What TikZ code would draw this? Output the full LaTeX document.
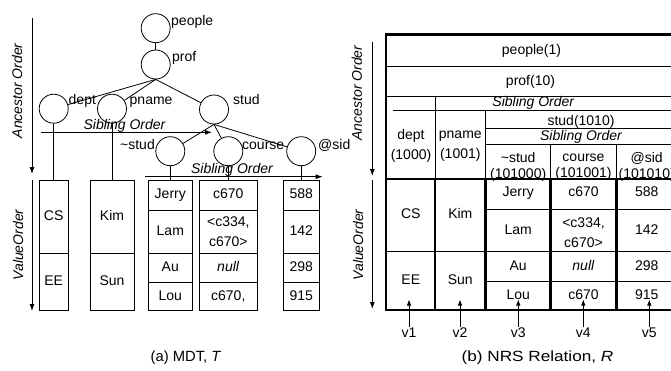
\documentclass[tikz,border=0pt]{standalone}
\usepackage{fontspec}
\setmainfont{Liberation Sans}
\usetikzlibrary{arrows.meta}
\begin{document}
\begin{tikzpicture}[x=1pt,y=-1pt,
  every node/.style={font=\fontsize{14}{20}\selectfont, inner sep=0pt},
  lbl/.style={text height=10pt,text depth=3pt},
  ital/.style={font=\fontsize{14}{20}\selectfont\itshape},
  capfont/.style={font=\fontsize{14.8}{20}\selectfont},
  tnode/.style={circle, draw, line width=0.8pt, minimum size=29pt},
  tline/.style={line width=0.8pt},
  cell/.style={draw, line width=0.9pt, rectangle, align=center},
  ord/.style={line width=0.9pt, -{Latex[length=7pt,width=5pt]}},
  tl/.style={line width=0.8pt},
  tk/.style={line width=2.6pt},
  varrow/.style={line width=0.8pt,-{Latex[length=6pt,width=4.5pt]}}
]
\useasboundingbox (0,0) rectangle (671,370);

% ---------------- (a) MDT ----------------
\coordinate (aoL1) at (32,18);
\coordinate (aoL2) at (32,174);
\draw[ord] (aoL1) -- (aoL2);
\node[lbl,ital,rotate=90] (aoLt) at (18.5,90.8) {Ancestor Order};

\node[tnode] (people) at (155.7,28.2) {};
\node[tnode] (prof) at (155.7,64.5) {};
\node[tnode] (dept) at (53.7,108.7) {};
\node[tnode] (pname) at (112,108.7) {};
\node[tnode] (stud) at (214,109.5) {};
\node[tnode] (tstud) at (170.3,151.2) {};
\node[tnode] (course) at (228.3,151.2) {};
\node[tnode] (sid) at (301.2,151.2) {};

\draw[tline] (people) -- (prof);
\draw[tline] (prof.south) -- (dept);
\draw[tline] (prof.south) -- (pname);
\draw[tline] (prof.south) -- (stud);
\draw[tline] (stud.south) -- (tstud);
\draw[tline] (stud.south) -- (course);
\draw[tline] (stud.south) -- (sid);

\node[lbl,anchor=base west] (peoplet) at (171,25) {people};
\node[lbl,anchor=base west] (proft) at (172,61.7) {prof};
\node[lbl,anchor=base west] (deptt) at (68.5,104) {dept};
\node[lbl,anchor=base west] (pnamet) at (129.5,104) {pname};
\node[lbl,anchor=base west] (studt) at (233,104) {stud};
\node[lbl,anchor=base east] (tstudt) at (155,149) {\textasciitilde stud};
\node[lbl,anchor=base west] (courset) at (242,149) {course};
\node[lbl,anchor=base west] (sidt) at (318,149) {@sid};

\coordinate (so1a) at (40.7,132.3);
\coordinate (so1b) at (212,132.3);
\draw[ord] (so1a) -- (so1b);
\node[lbl,ital,anchor=base] (so1t) at (124.5,129.3) {Sibling Order};

% cells
\node[cell,lbl,minimum width=29.3pt,minimum height=72.6pt] (cs) at (53.7,217) {CS};
\node[cell,lbl,minimum width=29.3pt,minimum height=57.4pt] (ee) at (53.7,282) {EE};
\node[cell,lbl,minimum width=44pt,minimum height=72.6pt] (kim) at (112,217) {Kim};
\node[cell,lbl,minimum width=44pt,minimum height=57.4pt] (sun) at (112,282) {Sun};

\node[cell,lbl,minimum width=44pt,minimum height=29.3pt] (jerry) at (170.3,195.35) {Jerry};
\node[cell,lbl,minimum width=44pt,minimum height=43.3pt] (lam) at (170.3,231.65) {Lam};
\node[cell,lbl,minimum width=44pt,minimum height=29pt] (au) at (170.3,267.8) {Au};
\node[cell,lbl,minimum width=44pt,minimum height=28.4pt] (lou) at (170.3,296.5) {Lou};

\node[cell,lbl,minimum width=58.7pt,minimum height=29.3pt] (ca) at (228.3,195.35) {c670};
\node[cell,minimum width=58.7pt,minimum height=43.3pt] (cb) at (228.3,231.65) {<c334,\\c670>};
\node[cell,lbl,minimum width=58.7pt,minimum height=29pt] (cc) at (228.3,267.8) {\textit{null}};
\node[cell,lbl,minimum width=58.7pt,minimum height=28.4pt] (cd) at (228.3,296.5) {c670,};

\node[cell,lbl,minimum width=36.3pt,minimum height=29.3pt] (sa) at (301.2,195.35) {588};
\node[cell,lbl,minimum width=36.3pt,minimum height=43.3pt] (sb) at (301.2,231.65) {142};
\node[cell,lbl,minimum width=36.3pt,minimum height=29pt] (sc) at (301.2,267.8) {298};
\node[cell,lbl,minimum width=36.3pt,minimum height=28.4pt] (sd) at (301.2,296.5) {915};

\draw[tline] (dept) -- (cs);
\draw[tline] (pname) -- (kim);
\draw[tline] (tstud) -- (jerry);
\draw[tline] (course) -- (ca);
\draw[tline] (sid) -- (sa);

\coordinate (so2a) at (145,176.7);
\coordinate (so2b) at (322.7,176.7);
\draw[ord] (so2a) -- (so2b);
\node[lbl,ital,anchor=base] (so2t) at (232,173.3) {Sibling Order};

\coordinate (voL1) at (32,180);
\coordinate (voL2) at (32,311);
\draw[ord] (voL1) -- (voL2);
\node[lbl,ital,rotate=90] (voLt) at (19.5,245) {ValueOrder};

\node[lbl,capfont] (capa) at (186,358) {(a) MDT, \textit{T}};

% ---------------- (b) NRS ----------------
\coordinate (aoR1) at (372.3,42);
\coordinate (aoR2) at (372.3,176);
\draw[ord] (aoR1) -- (aoR2);
\node[lbl,ital,rotate=90] (aoRt) at (358.3,93) {Ancestor Order};

\coordinate (voR1) at (372.3,180);
\coordinate (voR2) at (372.3,309);
\draw[ord] (voR1) -- (voR2);
\node[lbl,ital,rotate=90] (voRt) at (359.5,245) {ValueOrder};

% thin lines
\draw[tl] (386,66.7) -- (677,66.7);
\draw[tl] (386,96.7) -- (677,96.7);
\draw[tl] (393,110) -- (677,110);
\draw[tl] (435,96.7) -- (435,179);
\draw[tl] (485.7,110) -- (485.7,179);
\draw[tl] (485.7,128.3) -- (677,128.3);
\draw[tl] (485.7,144) -- (677,144);
\draw[tl] (550.5,144) -- (550.5,179);
\draw[tl] (616.5,144) -- (616.5,179);
\draw[tl] (386,251.5) -- (485.7,251.5);
\draw[tl] (485.7,209) -- (677,209);
\draw[tl] (485.7,251.5) -- (677,251.5);
\draw[tl] (485.7,281) -- (677,281);
% thick lines
\draw[tk] (386,34.3) rectangle (677,310);
\draw[tk] (386,179) -- (677,179);
\draw[tk] (435,179) -- (435,310);
\draw[tk] (485.7,179) -- (485.7,310);
\draw[tk] (550.5,179) -- (550.5,310);
\draw[tk] (616.5,179) -- (616.5,310);

% header texts
\node[lbl] (h1) at (531.5,51) {people(1)};
\node[lbl] (h2) at (530.5,81.7) {prof(10)};
\node[lbl,ital] (h3) at (533.3,103.3) {Sibling Order};
\node[lbl] (h4) at (581,121.7) {stud(1010)};
\node[lbl,ital] (h5) at (581,136.7) {Sibling Order};
\node[align=center] (h6) at (411,146) {dept\\(1000)};
\node[align=center] (h7) at (460.3,146) {pname\\(1001)};
\node[align=center] (h8) at (518.2,167) {\textasciitilde stud\\[-3.4pt](101000)};
\node[align=center] (h9) at (583.5,167) {course\\[-3.4pt](101001)};
\node[align=center] (h10) at (646.7,167) {@sid\\[-3.4pt](101010)};

% data texts
\node[lbl] (r1) at (410.8,215) {CS};
\node[lbl] (r2) at (460.3,215) {Kim};
\node[lbl] (r3) at (410.8,280.7) {EE};
\node[lbl] (r4) at (460.3,280.7) {Sun};
\node[lbl] (r5) at (518.2,193.3) {Jerry};
\node[lbl] (r6) at (583.5,193.3) {c670};
\node[lbl] (r7) at (646.7,193.3) {588};
\node[lbl] (r8) at (518.2,230.7) {Lam};
\node[align=center] (r9) at (583.5,232.5) {<c334,\\c670>};
\node[lbl] (r10) at (646.7,230.7) {142};
\node[lbl] (r11) at (518.2,266.7) {Au};
\node[lbl] (r12) at (583.5,266.7) {\textit{null}};
\node[lbl] (r13) at (646.7,266.7) {298};
\node[lbl] (r14) at (518.2,295.5) {Lou};
\node[lbl] (r15) at (583.5,295.5) {c670};
\node[lbl] (r16) at (646.7,295.5) {915};

% v arrows
\node[lbl] (v1) at (409,334) {v1};
\node[lbl] (v2) at (460,334) {v2};
\node[lbl] (v3) at (518.3,334) {v3};
\node[lbl] (v4) at (583.3,334) {v4};
\node[lbl] (v5) at (649.3,334) {v5};
\coordinate (t1) at (409,299.5);
\coordinate (t2) at (460,299.5);
\coordinate (t3) at (518.3,299.5);
\coordinate (t4) at (583.3,299.5);
\coordinate (t5) at (649.3,299.5);
\draw[varrow] (v1) -- (t1);
\draw[varrow] (v2) -- (t2);
\draw[varrow] (v3) -- (t3);
\draw[varrow] (v4) -- (t4);
\draw[varrow] (v5) -- (t5);

\node[lbl,capfont,xscale=1.16] (capb) at (537.5,358) {(b) NRS Relation, \textit{R}};
\end{tikzpicture}
\end{document}
